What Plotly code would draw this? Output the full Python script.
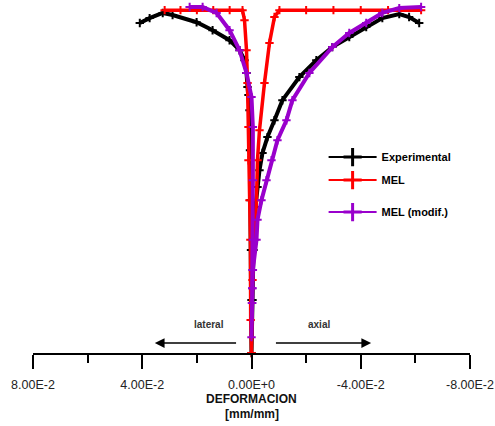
import plotly.graph_objects as go

# ---------------- data (strain [mm/mm], stress [relative units]) ----------------
exp_lat_strain = [0.0409, 0.0373, 0.0325, 0.0289, 0.0201, 0.01425, 0.00804, 0.00438, 0.00256,
                  0.00183, 0.00146, 0.0011, 0.00073, 0.00055, 0.00037, 0.00018, 0.0, 0.0]
exp_lat_stress = [95.7, 97.1, 98.6, 98.0, 95.9, 93.6, 90.7, 87.8, 84.9,
                  81.2, 77.1, 74.8, 70.4, 58.8, 44.3, 29.9, 15.4, 0.0]
exp_ax_strain = [-0.00037, -0.00073, -0.00146, -0.00219, -0.00292, -0.00402, -0.00584, -0.0084,
                 -0.01132, -0.01753, -0.02374, -0.02959, -0.0358, -0.0420, -0.0479, -0.0541,
                 -0.0577, -0.0614]
exp_ax_stress = [15.4, 29.9, 42.3, 48.1, 53.0, 58.0, 62.6, 67.5,
                 73.3, 80.0, 84.9, 88.7, 91.6, 94.5, 97.1, 98.3, 97.4, 95.7]

mel_lat_strain = [0.0318, 0.0260, 0.0200, 0.0140, 0.0080, 0.00329, 0.00256, 0.00183, 0.00146,
                  0.0011, 0.0011, 0.00073, 0.0004, 0.0003, 0.0]
mel_lat_stress = [99.4, 99.4, 99.4, 99.4, 99.4, 99.4, 96.5, 87.8, 78.3,
                  65.5, 55.9, 44.3, 32.8, 9.6, 0.0]
mel_ax_strain = [-0.00037, -0.0011, -0.00183, -0.00219, -0.00292, -0.00475, -0.00658, -0.0084,
                 -0.01023, -0.0200, -0.0300, -0.0400, -0.0500, -0.0621]
mel_ax_stress = [21.2, 32.8, 44.3, 55.9, 64.6, 78.3, 89.9, 97.4,
                 99.4, 99.4, 99.4, 99.4, 99.4, 99.4]

mod_lat_strain = [0.02265, 0.0179, 0.01279, 0.00804, 0.00438, 0.00183, 0.0, -0.0005,
                  -0.0005, -0.0005, -0.0004, -0.0003, -0.0002, 0.0]
mod_lat_stress = [100.3, 100.3, 98.6, 93.6, 87.8, 81.2, 74.2, 65.5,
                  50.1, 32.8, 24.1, 18.8, 14.5, 4.6]
mod_ax_strain = [-0.0002, -0.0003, -0.0005, -0.00183, -0.00219, -0.00365, -0.00548, -0.00731,
                 -0.0095, -0.01279, -0.01498, -0.02119, -0.02959, -0.0358, -0.0420, -0.0479,
                 -0.0541, -0.0621]
mod_ax_stress = [14.5, 18.8, 24.1, 32.8, 38.6, 44.3, 50.1, 55.9,
                 61.7, 67.5, 73.3, 81.2, 88.7, 92.8, 95.7, 98.6, 100.0, 100.3]

tick_vals = [0.08, 0.04, 0.0, -0.04, -0.08]
tick_text = ["8.00E-2", "4.00E-2", "0.00E+0", "-4.00E-2", "-8.00E-2"]
minor_vals = [0.06, 0.02, -0.02, -0.06]

series_names = ["Experimental", "MEL", "MEL (modif.)"]
colors = {"Experimental": "#000000", "MEL": "#ff0000", "MEL (modif.)": "#9900cc"}
widths = {"Experimental": 4, "MEL": 3.5, "MEL (modif.)": 4}

FONT = "Liberation Sans, Arial, sans-serif"

fig = go.Figure()

curves = [
    ("Experimental", exp_lat_strain + exp_ax_strain, exp_lat_stress + exp_ax_stress),
    ("MEL", mel_lat_strain + mel_ax_strain, mel_lat_stress + mel_ax_stress),
    ("MEL (modif.)", mod_lat_strain + mod_ax_strain, mod_lat_stress + mod_ax_stress),
]
for name, xs, ys in curves:
    c = colors[name]
    fig.add_trace(go.Scatter(
        x=xs, y=ys, mode="lines+markers", showlegend=False, cliponaxis=False,
        line=dict(color=c, width=widths[name]),
        marker=dict(symbol="cross-thin", size=6, color=c, line=dict(color=c, width=2)),
    ))

# legend entries (one legend each for exact placement)
legend_ids = ["legend", "legend2", "legend3"]
legend_y = [0.563, 0.497, 0.405]
for name, lid in zip(series_names, legend_ids):
    c = colors[name]
    fig.add_trace(go.Scatter(
        x=[None], y=[None], mode="lines+markers", name=name, legend=lid,
        line=dict(color=c, width=2),
        marker=dict(symbol="cross-thin", size=13, color=c, line=dict(color=c, width=3)),
    ))

leg_common = dict(x=0.665, xanchor="left", yanchor="middle", bgcolor="rgba(0,0,0,0)",
                  font=dict(family=FONT, size=11, color="black", weight="bold"),
                  itemwidth=48, borderwidth=0)
fig.update_layout(
    legend=dict(y=legend_y[0], **leg_common),
    legend2=dict(y=legend_y[1], **leg_common),
    legend3=dict(y=legend_y[2], **leg_common),
)

fig.update_layout(
    width=495, height=426,
    margin=dict(l=33, r=25, t=5, b=73, autoexpand=False),
    paper_bgcolor="white", plot_bgcolor="white",
    font=dict(family=FONT),
    xaxis=dict(
        range=[0.08, -0.08], tickvals=tick_vals, ticktext=tick_text,
        ticks="outside", ticklen=14, tickwidth=2, tickcolor="black",
        showline=True, linewidth=2, linecolor="black",
        showgrid=False, zeroline=False, automargin=False,
        tickfont=dict(family=FONT, size=12.5, color="#222222"),
        ticklabelstandoff=5,
        minor=dict(tickvals=minor_vals, ticks="outside", ticklen=8, tickwidth=2,
                   tickcolor="black", showgrid=False),
    ),
    yaxis=dict(range=[0, 100.9], visible=False, automargin=False),
)

# direction arrows and labels
fig.add_annotation(x=0.0354, y=2.9, ax=0.0051, ay=2.9, xref="x", yref="y", axref="x", ayref="y",
                   text="", showarrow=True, arrowhead=2, arrowsize=1.3, arrowwidth=1.5,
                   arrowcolor="black")
fig.add_annotation(x=-0.0438, y=2.9, ax=-0.0084, ay=2.9, xref="x", yref="y", axref="x", ayref="y",
                   text="", showarrow=True, arrowhead=2, arrowsize=1.3, arrowwidth=1.5,
                   arrowcolor="black")
fig.add_annotation(x=0.0157, y=8.4, xref="x", yref="y", text="lateral", showarrow=False,
                   font=dict(family=FONT, size=10, color="#333333", weight="bold"))
fig.add_annotation(x=-0.0248, y=8.4, xref="x", yref="y", text="axial", showarrow=False,
                   font=dict(family=FONT, size=10, color="#333333", weight="bold"))

# axis title
fig.add_annotation(x=0, y=0, xref="x", yref="paper", yanchor="middle", yshift=-46,
                   text="DEFORMACION", showarrow=False,
                   font=dict(family=FONT, size=12, color="#111111", weight="bold"))
fig.add_annotation(x=0, y=0, xref="x", yref="paper", yanchor="middle", yshift=-61,
                   text="[mm/mm]", showarrow=False,
                   font=dict(family=FONT, size=12, color="#111111", weight="bold"))

fig.write_html("out.html")
